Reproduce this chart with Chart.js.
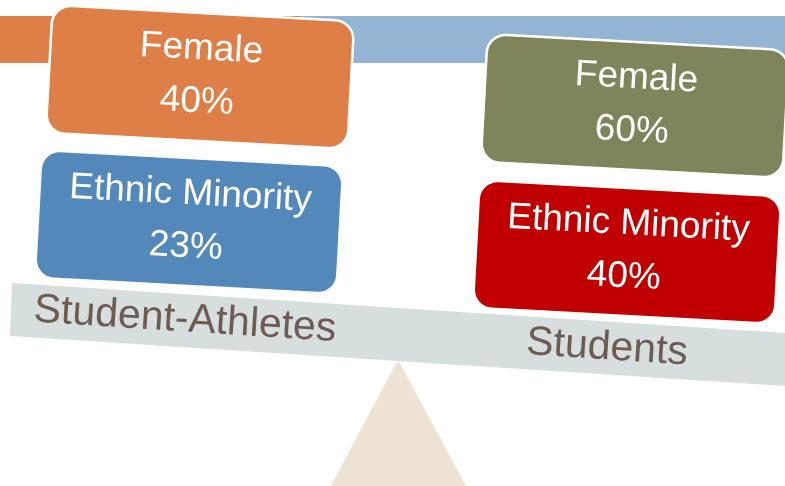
<!DOCTYPE html>
<html>
<head>
<meta charset="utf-8">
<script src="https://cdn.jsdelivr.net/npm/chart.js@4/dist/chart.umd.min.js"></script>
<style>
  html, body { margin: 0; padding: 0; background: #ffffff; overflow: hidden; }
  #c { display: block; }
</style>
</head>
<body>
<canvas id="c" width="785" height="486"></canvas>
<script>
// ---- Data ----
const groups = ['Student-Athletes', 'Students'];
const measures = ['Female', 'Ethnic Minority'];
const femalePct = [40, 60];
const minorityPct = [23, 40];

// ---- Styling / layout (not data) ----
const boxColors = {
  'Student-Athletes': ['#DD7F47', '#5389BA'],
  'Students': ['#7F845A', '#C00000']
};
const DEG = Math.PI / 180;

const balancePlugin = {
  id: 'balance',
  afterDraw(chart) {
    const ctx = chart.ctx;
    const xs = chart.scales.x, ys = chart.scales.y;
    const px = v => xs.getPixelForValue(v);
    const py = v => ys.getPixelForValue(v);
    const sx = v => Math.abs(xs.getPixelForValue(v) - xs.getPixelForValue(0));
    const sy = v => Math.abs(ys.getPixelForValue(v) - ys.getPixelForValue(0));

    ctx.save();
    // top header band
    ctx.fillStyle = '#93B4D3';
    ctx.fillRect(px(300), py(16), sx(485), sy(47));
    ctx.fillStyle = '#DE8047';
    ctx.fillRect(px(0), py(16), sx(300), sy(47));

    // fulcrum
    ctx.fillStyle = '#EDE3D4';
    ctx.strokeStyle = '#EDE3D4';
    ctx.lineJoin = 'round';
    ctx.lineWidth = 4;
    ctx.beginPath();
    ctx.moveTo(px(398), py(364));
    ctx.lineTo(px(466), py(490));
    ctx.lineTo(px(331), py(490));
    ctx.closePath();
    ctx.fill();
    ctx.stroke();

    // beam
    ctx.fillStyle = '#D6DFDE';
    ctx.beginPath();
    ctx.moveTo(px(12), py(283));
    ctx.lineTo(px(786), py(333));
    ctx.lineTo(px(786), py(386));
    ctx.lineTo(px(10), py(336));
    ctx.closePath();
    ctx.fill();

    // beam labels
    const beamAngle = 3.7 * DEG;
    const labelPos = [[185, 320], [607, 348]];
    ctx.fillStyle = '#6D5B54';
    ctx.font = '41px "Liberation Sans", Arial, sans-serif';
    ctx.textAlign = 'center';
    ctx.textBaseline = 'middle';
    groups.forEach((g, i) => {
      ctx.save();
      ctx.translate(px(labelPos[i][0]), py(labelPos[i][1]));
      ctx.rotate(beamAngle);
      ctx.fillText(g, 0, 0);
      ctx.restore();
    });

    // boxes
    const boxAngle = 3.1 * DEG;
    const centers = {
      'Student-Athletes': [[200, 77], [189, 222]],
      'Students': [[635, 106], [627, 252]]
    };
    const values = { 'Student-Athletes': [femalePct[0], minorityPct[0]], 'Students': [femalePct[1], minorityPct[1]] };
    const w = sx(302), h = sy(128), r = 19;
    groups.forEach(g => {
      measures.forEach((m, j) => {
        const [cx, cy] = centers[g][j];
        ctx.save();
        ctx.translate(px(cx), py(cy));
        ctx.rotate(boxAngle);
        ctx.beginPath();
        ctx.roundRect(-w / 2, -h / 2, w, h, r);
        ctx.fillStyle = boxColors[g][j];
        ctx.fill();
        ctx.lineWidth = 2.5;
        ctx.strokeStyle = '#ffffff';
        ctx.stroke();
        ctx.fillStyle = '#ffffff';
        ctx.font = '37px "Liberation Sans", Arial, sans-serif';
        ctx.textAlign = 'center';
        ctx.textBaseline = 'middle';
        ctx.fillText(m, 0, -28);
        ctx.fillText(values[g][j] + '%', -2, 25);
        ctx.restore();
      });
    });
    ctx.restore();
  }
};

new Chart(document.getElementById('c'), {
  type: 'scatter',
  data: { datasets: [] },
  options: {
    responsive: false,
    animation: false,
    events: [],
    layout: { padding: 0 },
    plugins: { legend: { display: false }, tooltip: { enabled: false }, title: { display: false } },
    scales: {
      x: { type: 'linear', min: 0, max: 785, display: false },
      y: { type: 'linear', min: 0, max: 486, reverse: true, display: false }
    }
  },
  plugins: [balancePlugin]
});
</script>
</body>
</html>
